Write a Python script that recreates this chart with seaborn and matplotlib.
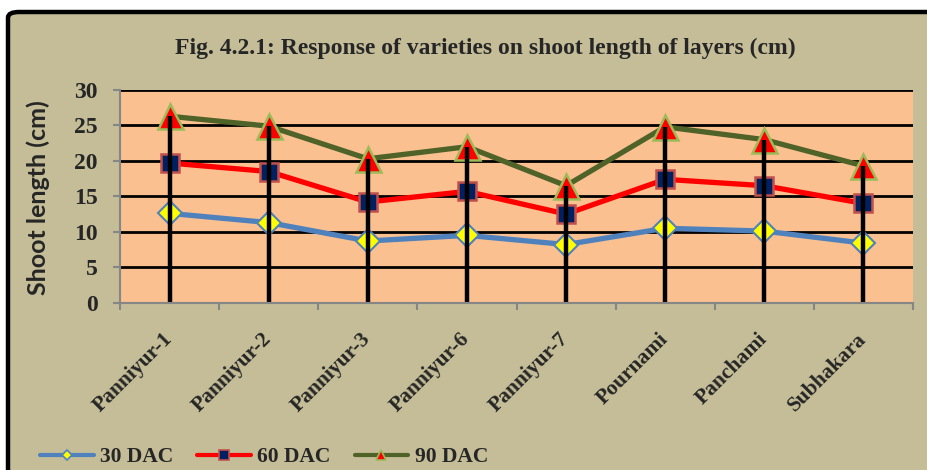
import numpy as np
import pandas as pd
import matplotlib
matplotlib.use("Agg")
import matplotlib.pyplot as plt
import seaborn as sns
from matplotlib.lines import Line2D
from matplotlib.patches import FancyBboxPatch

categories = ["Panniyur-1", "Panniyur-2", "Panniyur-3", "Panniyur-6",
              "Panniyur-7", "Pournami", "Panchami", "Subhakara"]
dac30 = [12.6, 11.3, 8.7, 9.5, 8.2, 10.5, 10.1, 8.4]
dac60 = [19.7, 18.5, 14.2, 15.7, 12.5, 17.4, 16.5, 14.0]
dac90 = [26.3, 24.9, 20.3, 22.0, 16.5, 24.8, 23.0, 19.3]
series_names = ["30 DAC", "60 DAC", "90 DAC"]
yticks = [0, 5, 10, 15, 20, 25, 30]

sns.set_theme(style="white")
plt.rcParams["font.family"] = ["Liberation Serif", "DejaVu Serif"]

W, H = 927, 470
fig = plt.figure(figsize=(W / 100, H / 100), dpi=100, facecolor="white")

# outer chart frame
frame = FancyBboxPatch((8 / W, -0.2), 1.2, 1 - 12 / H + 0.2,
                       boxstyle="round,pad=0,rounding_size=0.012",
                       transform=fig.transFigure, facecolor="#C4BD97",
                       edgecolor="black", linewidth=3.2, zorder=-10)
fig.patches.append(frame)

ax = fig.add_axes([120 / W, 1 - 302.7 / H, (913 - 120) / W, (302.7 - 90) / H])
ax.set_facecolor("#FAC090")

x = np.arange(len(categories))
df = pd.DataFrame({"pos": np.tile(x, 3),
                   "value": dac30 + dac60 + dac90,
                   "series": np.repeat(series_names, len(categories))})

styles = {
    "30 DAC": dict(color="#4F81BD", marker="D", ms=12.5, mfc="#FFFF00", mec="#4F81BD", mew=1.5),
    "60 DAC": dict(color="#FF0000", marker="s", ms=13, mfc="#002060", mec="#C0504D", mew=1.8),
    "90 DAC": dict(color="#4F6228", marker="^", ms=18, mfc="#FF0000", mec="#9BBB59", mew=1.8),
}

for name in series_names:
    st = styles[name]
    sub = df[df["series"] == name]
    sns.lineplot(data=sub, x="pos", y="value", ax=ax, color=st["color"], lw=3.8,
                 marker=st["marker"], markersize=st["ms"], markerfacecolor=st["mfc"],
                 markeredgecolor=st["mec"], markeredgewidth=st["mew"], zorder=3,
                 legend=False, errorbar=None)

# drop lines from axis to highest series
ax.vlines(x, 0, dac90, colors="black", lw=3.2, zorder=5)

ax.set_xlim(-0.5, len(categories) - 0.5)
ax.set_ylim(0, 30)
ax.set_yticks(yticks)
ax.yaxis.grid(True, color="black", lw=2)
ax.xaxis.grid(False)
ax.set_axisbelow(True)

for s in ["top", "right"]:
    ax.spines[s].set_visible(False)
for s in ["left", "bottom"]:
    ax.spines[s].set_color("#868686")
    ax.spines[s].set_linewidth(1.5)
    ax.spines[s].set_zorder(6)

ax.tick_params(axis="y", left=True, length=5, width=1.5, color="#868686",
               pad=11, labelsize=17)
for lab in ax.get_yticklabels():
    lab.set_fontweight("bold")

ax.set_xticks(x)
ax.set_xticklabels(categories, rotation=45, ha="right", va="center",
                   rotation_mode="anchor", fontsize=15.5, fontweight="bold")
ax.set_xticks(np.arange(-0.5, len(categories)), minor=True)
ax.tick_params(axis="x", which="major", length=0, pad=24)
ax.tick_params(axis="x", which="minor", bottom=True, length=5, width=1.5,
               color="#868686")
ax.set_xlabel("")
ax.set_ylabel("")

fig.text(485 / W, 1 - 48 / H,
         "Fig. 4.2.1: Response of varieties on shoot length of layers (cm)",
         ha="center", va="center", fontsize=17, fontweight="bold")
fig.text(38 / W, 1 - 198 / H, "Shoot length (cm)", rotation=90,
         ha="center", va="center", fontsize=18, fontweight="bold",
         family=["Lato", "DejaVu Sans"])

handles = []
for name in series_names:
    st = styles[name]
    handles.append(Line2D([], [], color=st["color"], lw=3, marker=st["marker"],
                          ms={"D": 5.5, "s": 7.5, "^": 7}[st["marker"]],
                          mfc=st["mfc"], mec=st["mec"], mew=1.2))
leg = fig.legend(handles, series_names, loc="center left",
                 bbox_to_anchor=(40 / W, 1 - 457 / H), ncol=3, frameon=False,
                 prop={"family": "Liberation Serif", "weight": "bold", "size": 15.5},
                 handlelength=2.5, handletextpad=0.3, columnspacing=1.1,
                 borderpad=0, borderaxespad=0)

fig.savefig("out.png", dpi=100, facecolor="white")
